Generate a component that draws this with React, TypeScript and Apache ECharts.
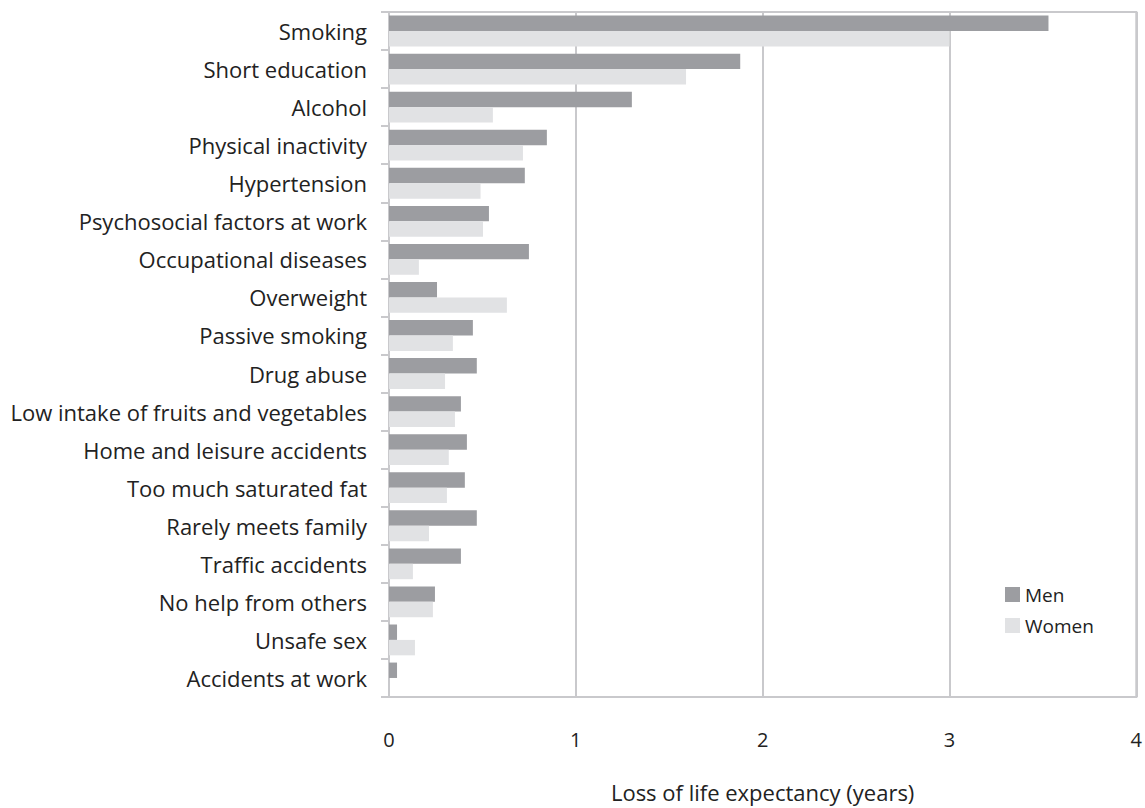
import React, { useEffect, useRef } from "react";
import * as echarts from "echarts";

const categories = [
  "Smoking",
  "Short education",
  "Alcohol",
  "Physical inactivity",
  "Hypertension",
  "Psychosocial factors at work",
  "Occupational diseases",
  "Overweight",
  "Passive smoking",
  "Drug abuse",
  "Low intake of fruits and vegetables",
  "Home and leisure accidents",
  "Too much saturated fat",
  "Rarely meets family",
  "Traffic accidents",
  "No help from others",
  "Unsafe sex",
  "Accidents at work",
];

const men = [3.53, 1.88, 1.3, 0.845, 0.727, 0.535, 0.749, 0.257, 0.449, 0.47, 0.385, 0.417, 0.406, 0.47, 0.385, 0.246, 0.043, 0.043];
const women = [3.0, 1.59, 0.556, 0.717, 0.49, 0.503, 0.16, 0.631, 0.342, 0.3, 0.353, 0.32, 0.31, 0.214, 0.128, 0.235, 0.139, 0];

const xTicks = [0, 1, 2, 3, 4];

const FONT = "'Open Sans', sans-serif";
const LINE = "#c9c9cc";
const TEXT = "#222";

export default function App() {
  const ref = useRef<HTMLDivElement>(null);
  useEffect(() => {
    if (!ref.current) return;
    const chart = echarts.init(ref.current, null, { renderer: "svg" });
    chart.setOption({
      animation: false,
      textStyle: { fontFamily: FONT },
      grid: {
        left: 389,
        right: 8,
        top: 12,
        bottom: 104,
        show: true,
        borderColor: LINE,
        borderWidth: 2,
      },
      legend: {
        orient: "vertical",
        left: 1000,
        top: 580,
        itemWidth: 15,
        itemHeight: 15,
        itemGap: 12,
        icon: "rect",
        textStyle: { fontFamily: FONT, fontSize: 19, color: TEXT },
        data: ["Men", "Women"],
      },
      xAxis: {
        type: "value",
        min: xTicks[0],
        max: xTicks[xTicks.length - 1],
        interval: 1,
        name: "Loss of life expectancy (years)",
        nameLocation: "middle",
        nameGap: 84,
        nameTextStyle: { fontFamily: FONT, fontSize: 22, color: TEXT },
        axisLine: { show: true, lineStyle: { color: LINE, width: 2 } },
        axisTick: { show: false },
        axisLabel: { margin: 32, fontFamily: FONT, fontSize: 20, color: TEXT, hideOverlap: false, showMaxLabel: true },
        splitLine: { show: true, lineStyle: { color: LINE, width: 2 } },
      },
      yAxis: {
        type: "category",
        inverse: true,
        data: categories,
        axisLine: { show: true, lineStyle: { color: LINE, width: 2 } },
        axisTick: { show: true, length: 8, lineStyle: { color: LINE, width: 2 } },
        axisLabel: { margin: 22, fontFamily: FONT, fontSize: 22, color: TEXT, interval: 0 },
        splitLine: { show: false },
      },
      series: [
        {
          name: "Men",
          type: "bar",
          data: men,
          itemStyle: { color: "#9c9da1" },
          barGap: "0%",
          barCategoryGap: "19%",
        },
        {
          name: "Women",
          type: "bar",
          data: women,
          itemStyle: { color: "#e1e2e4" },
          barGap: "0%",
          barCategoryGap: "19%",
        },
      ],
    });
    return () => chart.dispose();
  }, []);
  return (
    <div
      ref={ref}
      style={{ position: "fixed", left: 0, top: 0, width: 1145, height: 808, background: "#fff" }}
    />
  );
}
